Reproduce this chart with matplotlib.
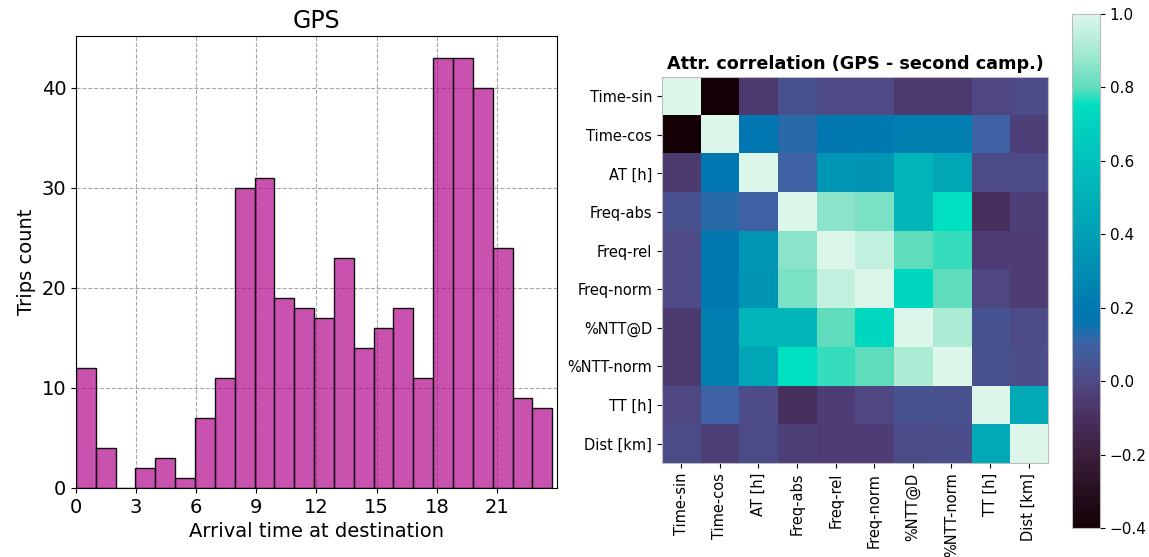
import numpy as np
import matplotlib
matplotlib.use("Agg")
import matplotlib.pyplot as plt
from matplotlib.colors import LinearSegmentedColormap

# ---- data ----
hour_edges_max = 23.76
trip_counts = [12, 4, 0, 2, 3, 1, 7, 11, 30, 31, 19, 18, 17, 23, 14, 16, 18, 11, 43, 43, 40, 24, 9, 8]
hour_ticks = [0, 3, 6, 9, 12, 15, 18, 21]

attr_labels = ["Time-sin", "Time-cos", "AT [h]", "Freq-abs", "Freq-rel", "Freq-norm",
               "%NTT@D", "%NTT-norm", "TT [h]", "Dist [km]"]
corr = [
    [1.00, -0.40, -0.06, 0.03, 0.00, 0.00, -0.06, -0.06, -0.01, 0.01],
    [-0.40, 1.00, 0.20, 0.12, 0.19, 0.21, 0.23, 0.23, 0.10, -0.03],
    [-0.06, 0.20, 1.00, 0.10, 0.35, 0.34, 0.53, 0.44, 0.01, 0.01],
    [0.03, 0.12, 0.10, 1.00, 0.86, 0.84, 0.54, 0.75, -0.10, -0.03],
    [0.00, 0.19, 0.35, 0.86, 1.00, 0.95, 0.80, 0.78, -0.04, -0.04],
    [0.00, 0.21, 0.34, 0.84, 0.95, 1.00, 0.72, 0.80, -0.01, -0.04],
    [-0.06, 0.23, 0.53, 0.54, 0.80, 0.72, 1.00, 0.91, 0.04, 0.01],
    [-0.06, 0.23, 0.44, 0.75, 0.78, 0.80, 0.91, 1.00, 0.03, 0.02],
    [-0.01, 0.10, 0.01, -0.10, -0.04, -0.01, 0.04, 0.03, 1.00, 0.46],
    [0.01, -0.03, 0.01, -0.03, -0.04, -0.04, 0.01, 0.02, 0.46, 1.00],
]
cbar_ticks = [-0.4, -0.2, 0.0, 0.2, 0.4, 0.6, 0.8, 1.0]

# ---- colormap (estimated from reference colorbar) ----
vmin, vmax = -0.4, 1.0
anchors = [
    (-0.40, "#120005"),
    (-0.20, "#3c1f3c"),
    (-0.10, "#48305f"),
    (-0.05, "#4d3c72"),
    (0.00, "#4f4a86"),
    (0.10, "#3d62a4"),
    (0.16, "#0576b0"),
    (0.20, "#0078b0"),
    (0.30, "#008db2"),
    (0.40, "#009fb5"),
    (0.50, "#00b0b8"),
    (0.60, "#00c0bc"),
    (0.70, "#00d2bf"),
    (0.755, "#00e0c0"),
    (0.80, "#5edcbc"),
    (0.90, "#a6ead2"),
    (1.00, "#dcf6ea"),
]
cmap = LinearSegmentedColormap.from_list(
    "corr", [((v - vmin) / (vmax - vmin), c) for v, c in anchors])

fig = plt.figure(figsize=(11.49, 5.57), dpi=100)

# ---- histogram ----
ax1 = fig.add_axes([0.0661, 0.1239, 0.4187, 0.8115])
edges = np.linspace(0, hour_edges_max, len(trip_counts) + 1)
ax1.hist(edges[:-1], bins=edges, weights=trip_counts,
         facecolor=(178/255, 8/255, 141/255, 0.7), edgecolor="#111111", linewidth=1.0)
ax1.set_xlim(0, 24)
ax1.set_xticks(hour_ticks)
ax1.set_yticks([0, 10, 20, 30, 40])
ax1.grid(True, linestyle="--", color="gray", alpha=0.7, linewidth=0.8)
ax1.set_axisbelow(True)
ax1.tick_params(labelsize=14)
ax1.set_xlabel("Arrival time at destination", fontsize=14)
ax1.set_ylabel("Trips count", fontsize=14)
ax1.set_title("GPS", fontsize=17)

# ---- heatmap ----
ax2 = fig.add_axes([0.5761, 0.1688, 0.336, 0.693])
im = ax2.imshow(np.array(corr), cmap=cmap, vmin=vmin, vmax=vmax, aspect="auto",
                interpolation="nearest")
ax2.set_xticks(range(len(attr_labels)))
ax2.set_yticks(range(len(attr_labels)))
ax2.set_xticklabels(attr_labels, rotation=90, fontsize=10.5)
ax2.set_yticklabels(attr_labels, fontsize=10.5)
for s in ax2.spines.values():
    s.set_color("#bbbbbb")
ax2.set_title("Attr. correlation (GPS - second camp.)", fontsize=12.7, fontweight="bold")

cax = fig.add_axes([0.933, 0.0521, 0.0244, 0.9228])
cb = fig.colorbar(im, cax=cax, ticks=cbar_ticks)
cb.ax.tick_params(labelsize=11)
cb.outline.set_edgecolor("#bbbbbb")

fig.savefig("out.png", dpi=100)
